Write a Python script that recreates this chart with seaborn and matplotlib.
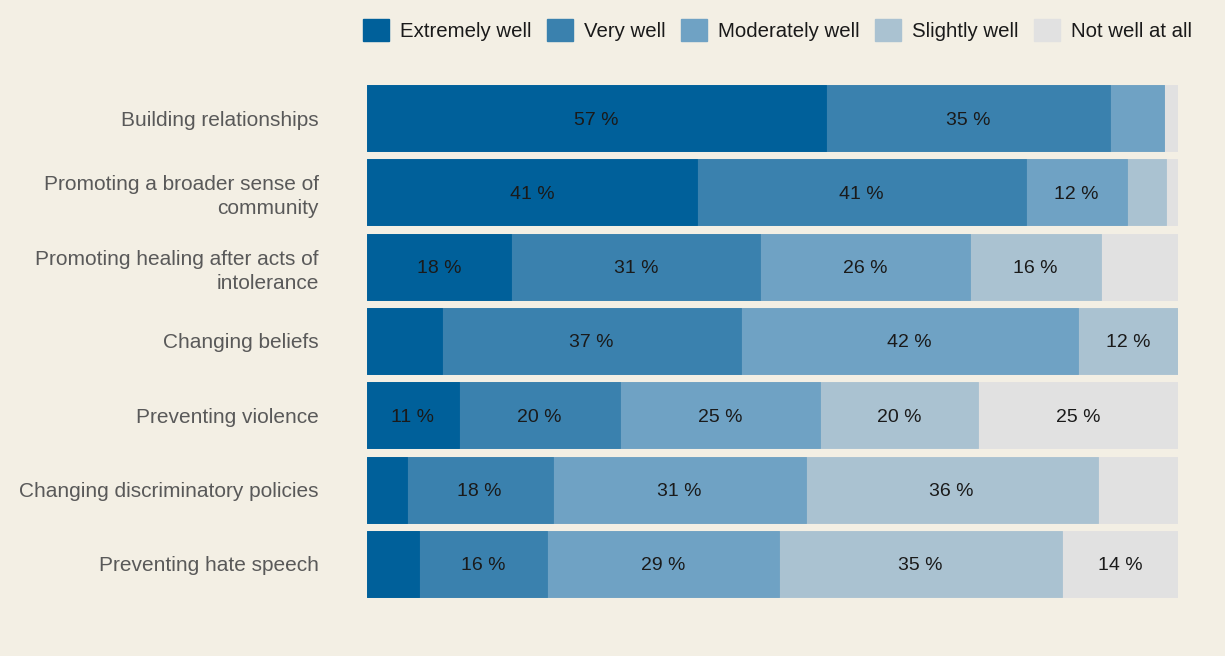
import matplotlib
matplotlib.use("Agg")
import matplotlib.pyplot as plt
import seaborn as sns
import pandas as pd
import numpy as np
from matplotlib.patches import Patch

categories = [
    "Building relationships",
    "Promoting a broader sense of\ncommunity",
    "Promoting healing after acts of\nintolerance",
    "Changing beliefs",
    "Preventing violence",
    "Changing discriminatory policies",
    "Preventing hate speech",
]
series_names = ["Extremely well", "Very well", "Moderately well", "Slightly well", "Not well at all"]
extremely = [56.6, 40.7, 17.8, 9.2, 11.3, 4.9, 6.4]
very = [35.0, 40.6, 30.7, 36.9, 19.9, 18.0, 15.8]
moderately = [6.7, 12.4, 25.8, 41.6, 24.6, 31.2, 28.6]
slightly = [0.0, 4.8, 16.2, 12.3, 19.6, 36.0, 34.9]
not_well = [1.7, 1.5, 9.5, 0.0, 24.6, 9.9, 14.3]
colors = ["#00609a", "#3a81ae", "#6fa2c4", "#aac2d1", "#e1e1e1"]

bg = "#f3efe4"
sns.set_theme(style="white", rc={"figure.facecolor": bg, "axes.facecolor": bg})
plt.rcParams["font.family"] = ["Liberation Sans", "DejaVu Sans"]

fig = plt.figure(figsize=(12.25, 6.56), dpi=100)
ax = fig.add_axes([367 / 1225, 1 - 601 / 656, (1178 - 367) / 1225, (601 - 81) / 656])

series = [extremely, very, moderately, slightly, not_well]
df = pd.DataFrame({"category": categories})
cum = np.zeros(len(categories))
lefts = []
for name, vals in zip(series_names, series):
    lefts.append(cum.copy())
    cum = cum + np.array(vals)
    df[name + "_end"] = cum.copy()

# draw cumulative layers from back (total) to front
for name, col in reversed(list(zip(series_names, colors))):
    sns.barplot(data=df, x=name + "_end", y="category", color=col, orient="h",
                width=0.89, ax=ax, saturation=1, edgecolor=col, linewidth=0.6)

for i, cat in enumerate(categories):
    for s, vals in enumerate(series):
        v = vals[i]
        if v >= 10:
            ax.text(lefts[s][i] + v / 2, i, f"{int(round(v))} %", ha="center",
                    va="center_baseline", fontsize=14, color="#1a1a1a")

ax.set_xlim(0, 100)
ax.set_ylim(len(categories) - 0.5, -0.5)
ax.set_xlabel("")
ax.set_ylabel("")
ax.set_xticks([])
ax.set_yticks(range(len(categories)))
ax.set_yticklabels(categories, linespacing=1.32)
ax.tick_params(axis="y", length=0, pad=34.6, labelsize=15, labelcolor="#595959")
for lab in ax.get_yticklabels():
    lab.set_horizontalalignment("right")
sns.despine(ax=ax, left=True, bottom=True)

handles = [Patch(facecolor=c, edgecolor=c) for c in colors]
fig.legend(handles, series_names, loc="center", bbox_to_anchor=(777.5 / 1225, 1 - 30 / 656),
           ncol=5, frameon=False, fontsize=14.7, handlelength=1.3, handleheight=1.3,
           handletextpad=0.55, columnspacing=0.72, labelcolor="#1a1a1a")

fig.savefig("out.png", dpi=100, facecolor=bg)
